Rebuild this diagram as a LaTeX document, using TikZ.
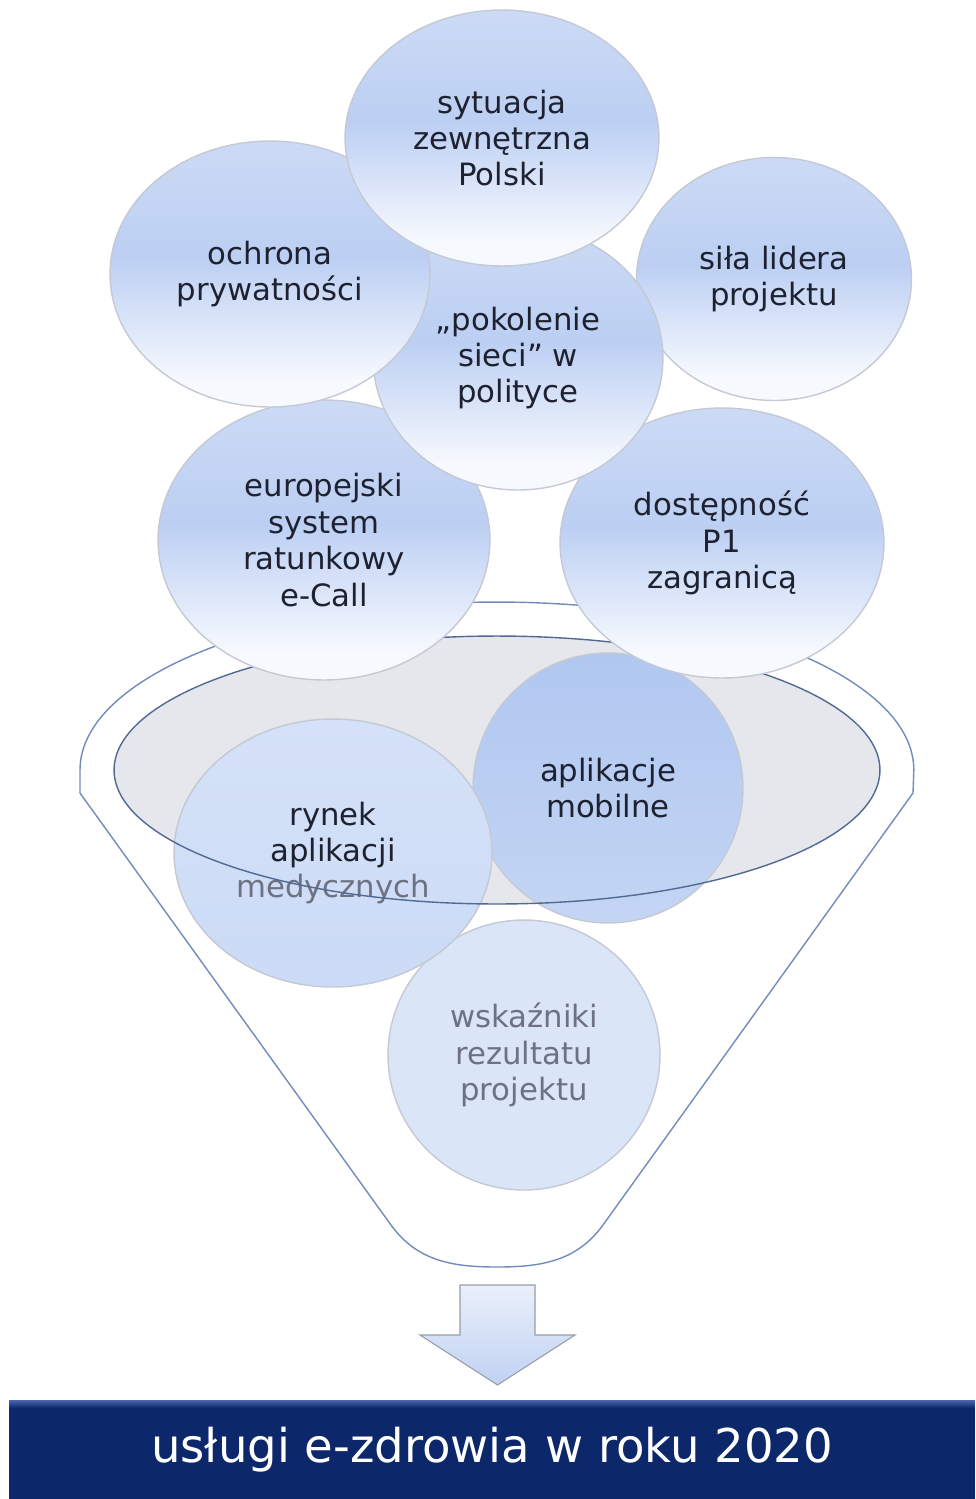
\documentclass[tikz,border=0pt]{standalone}
\usepackage{fontspec}
\setmainfont{DejaVu Sans}
\usepackage{xcolor}
\usepackage{tikz}
\usetikzlibrary{shapes.geometric, positioning, calc}
\definecolor{bubtop}{RGB}{204,218,245}
\definecolor{bubmid}{RGB}{188,207,243}
\definecolor{bubbot}{RGB}{246,249,254}
\definecolor{apptop}{RGB}{176,199,240}
\definecolor{appbot}{RGB}{196,213,244}
\definecolor{ryntop}{RGB}{212,225,248}
\definecolor{rynbot}{RGB}{204,219,246}
\definecolor{wskfill}{RGB}{219,229,248}
\definecolor{corefill}{RGB}{229,231,237}
\definecolor{coreline}{RGB}{80,106,148}
\definecolor{funnelline}{RGB}{112,140,188}
\definecolor{bubline}{RGB}{196,201,212}
\definecolor{textdark}{RGB}{30,34,48}
\definecolor{textgray}{RGB}{108,114,130}
\definecolor{barblue}{RGB}{12,40,106}
\definecolor{barhi}{RGB}{74,104,172}
\definecolor{arrowtop}{RGB}{234,240,251}
\definecolor{arrowbot}{RGB}{192,209,242}
\definecolor{arrowline}{RGB}{150,156,168}
\pgfdeclareverticalshading{bubshade}{100bp}{color(0bp)=(bubbot); color(30bp)=(bubbot); color(53bp)=(bubmid); color(75bp)=(bubtop); color(100bp)=(bubtop)}
\pgfdeclareverticalshading{barshade}{100bp}{color(0bp)=(barblue); color(71bp)=(barblue); color(75bp)=(barhi); color(100bp)=(barhi)}
\tikzset{
    bubblebase/.style={
        ellipse,
        draw=bubline,
        line width=0.8pt,
        inner sep=0pt,
        align=center,
        text=textdark,
        font=\fontsize{17.5}{20.7}\selectfont
    },
    bubble/.style={
        bubblebase,
        shading=bubshade
    },
    appbubble/.style={
        bubblebase,
        top color=apptop,
        bottom color=appbot
    },
    rynbubble/.style={
        bubblebase,
        top color=ryntop,
        bottom color=rynbot
    },
    palebubble/.style={
        bubblebase,
        fill=wskfill,
        text=textgray
    },
    coreellipse/.style={
        ellipse,
        inner sep=0pt,
        minimum width=15.32cm,
        minimum height=5.36cm
    },
    funnel/.style={
        draw=funnelline,
        line width=0.8pt
    },
    arrowblock/.style={
        draw=arrowline,
        line width=0.6pt,
        top color=arrowtop,
        bottom color=arrowbot
    },
    goalbar/.style={
        rectangle,
        shading=barshade,
        inner sep=0pt,
        minimum width=19.32cm,
        minimum height=1.98cm,
        text=white,
        font=\fontsize{26.5}{30}\selectfont
    }
}
\begin{document}
\begin{tikzpicture}[x=0.02cm, y=-0.02cm]
\useasboundingbox (0,0) rectangle (975,1499);

% Funnel
\draw[funnel] (80,770) arc[start angle=180, end angle=0, x radius=8.34cm, y radius=3.36cm]
    -- (913,793) -- (603,1225) to[out=234, in=0] (497,1267)
    to[out=180, in=-54] (391,1225) -- (80,793) -- cycle;

% Inner factors
\node[coreellipse, fill=corefill] (core) at (497,770) {};
\node[palebubble, minimum width=5.44cm, minimum height=5.4cm] (wskazniki) at (524,1055) {wskaźniki\\rezultatu\\projektu};
\node[appbubble, minimum width=5.4cm, minimum height=5.4cm] (aplikacje) at (608,788) {aplikacje\\mobilne};
\node[rynbubble, minimum width=6.36cm, minimum height=5.36cm] (rynek) at (333,853) {rynek\\aplikacji\\\textcolor{textgray}{medycznych}};
\node[coreellipse, draw=coreline, line width=0.8pt] (corerim) at (core) {};

% Outer factors
\node[bubble, minimum width=6.64cm, minimum height=5.6cm] (ecall) at (324,540) {europejski\\system\\ratunkowy\\e-Call};
\node[bubble, minimum width=6.48cm, minimum height=5.4cm] (dostep) at (722,543) {dostępność\\P1\\zagranicą};
\node[bubble, minimum width=5.5cm, minimum height=4.86cm] (sila) at (774,279) {siła lidera\\projektu};
\node[bubble, minimum width=5.8cm, minimum height=5.28cm] (pokolenie) at (518,358) {„pokolenie\\sieci” w\\polityce};
\node[bubble, minimum width=6.4cm, minimum height=5.32cm] (ochrona) at (270,274) {ochrona\\prywatności};
\node[bubble, minimum width=6.28cm, minimum height=5.12cm] (sytuacja) at (502,138) {sytuacja\\zewnętrzna\\Polski};

% Result
\path[arrowblock] (460,1285) -- (535,1285) -- (535,1335) -- (575,1335) -- (497.5,1385)
    -- (420,1335) -- (460,1335) -- cycle;
\node[goalbar] (goal) at (492,1449.5) {usługi e-zdrowia w roku 2020};

\end{tikzpicture}
\end{document}
